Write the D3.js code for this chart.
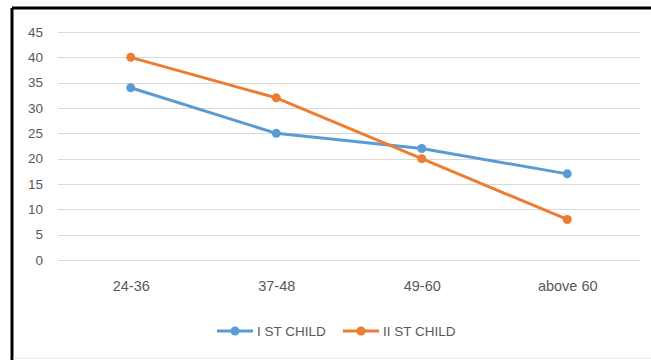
<!DOCTYPE html>
<html><head><meta charset="utf-8">
<script src="https://cdn.jsdelivr.net/npm/d3@7"></script>
<style>body{margin:0;background:#fff}svg{display:block}</style>
</head><body>
<svg id="c" width="651" height="360"></svg>
<script>
const categories = ["24-36", "37-48", "49-60", "above 60"];
const firstChild = [34, 25, 22, 17];
const secondChild = [40, 32, 20, 8];
const yTicks = [0, 5, 10, 15, 20, 25, 30, 35, 40, 45];
const seriesNames = ["I ST CHILD", "II ST CHILD"];
const colors = ["#5B9BD5", "#ED7D31"];

const svg = d3.select("#c");
const font = "'Liberation Sans', Arial, sans-serif";
// frame
svg.append("line").attr("x1",12).attr("x2",651).attr("y1",8).attr("y2",8).attr("stroke","#000").attr("stroke-width",3);
svg.append("line").attr("x1",12).attr("x2",12).attr("y1",8).attr("y2",360).attr("stroke","#000").attr("stroke-width",3);
svg.append("line").attr("x1",13).attr("x2",651).attr("y1",358).attr("y2",358).attr("stroke","#e6e6e6").attr("stroke-width",1);

const x = d3.scalePoint().domain(categories).range([58, 640]).padding(0.5);
const y = d3.scaleLinear().domain([0, 45]).range([260, 32]);

const g = svg.append("g");
g.selectAll("line.grid").data(yTicks).join("line")
  .attr("x1",58).attr("x2",640)
  .attr("y1",d=>Math.round(y(d))+0.5).attr("y2",d=>Math.round(y(d))+0.5)
  .attr("stroke","#d9d9d9").attr("stroke-width",1);

const yAxis = d3.axisLeft(y).tickValues(yTicks).tickSize(0).tickPadding(0);
const ya = svg.append("g").attr("transform","translate(43,0)").call(yAxis);
ya.select(".domain").remove();
ya.selectAll("text").attr("font-family",font).attr("font-size",13.5).attr("fill","#595959");

const xAxis = d3.axisBottom(x).tickSize(0).tickPadding(0);
const xa = svg.append("g").attr("transform","translate(0,281)").call(xAxis);
xa.select(".domain").remove();
xa.selectAll("text").attr("font-family",font).attr("font-size",14.5).attr("fill","#595959");

const series = [firstChild, secondChild];
const line = d3.line().x((d,i)=>x(categories[i])).y(d=>y(d));
series.forEach((s, k) => {
  svg.append("path").datum(s).attr("d", line).attr("fill","none")
    .attr("stroke", colors[k]).attr("stroke-width",3).attr("stroke-linecap","round");
  svg.selectAll(null).data(s).join("circle")
    .attr("cx",(d,i)=>x(categories[i])).attr("cy",d=>y(d)).attr("r",4.5)
    .attr("fill",colors[k]);
});

// legend
const legX = [217, 343];
seriesNames.forEach((n, k) => {
  const lg = svg.append("g").attr("transform",`translate(${legX[k]},331)`);
  lg.append("line").attr("x1",0).attr("x2",36).attr("y1",0).attr("y2",0).attr("stroke",colors[k]).attr("stroke-width",3);
  lg.append("circle").attr("cx",18).attr("cy",0).attr("r",4.5).attr("fill",colors[k]);
  lg.append("text").attr("x",40).attr("y",5).text(n)
    .attr("font-family",font).attr("font-size",13.5).attr("fill","#595959");
});
</script>
</body></html>
